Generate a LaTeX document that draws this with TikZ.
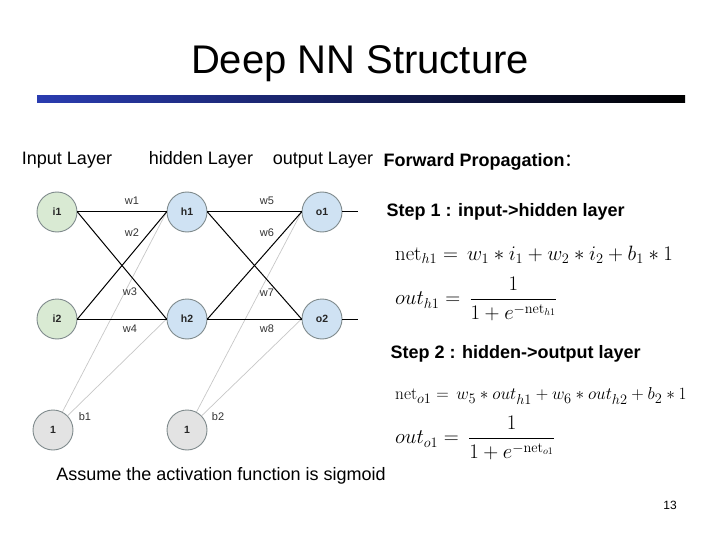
\documentclass[tikz,border=0pt]{standalone}
\usepackage[no-math]{fontspec}
\setmainfont{Liberation Sans}
\newfontfamily\cjkfont{Noto Sans CJK SC}
\usepackage{amsmath}
\usepackage{tikz}
\usetikzlibrary{positioning}
\definecolor{inputfill}{HTML}{D9EAD3}
\definecolor{unitfill}{HTML}{CFE2F3}
\definecolor{biasfill}{HTML}{E3E3E3}
\definecolor{ringcol}{HTML}{7F8A8C}
\definecolor{barblue}{HTML}{2A3CB0}

\begin{document}
\begin{tikzpicture}[x=1pt, y=-1pt,
  neuron/.style={circle, draw=ringcol, line width=0.9pt, minimum size=40pt, inner sep=0pt,
    text=black!85, font=\fontsize{10.5}{12}\selectfont\bfseries},
  weight/.style={text=black!80, font=\fontsize{11}{12}\selectfont},
  layer/.style={font=\fontsize{18}{21}\selectfont},
  heading/.style={anchor=west, font=\fontsize{18}{21}\selectfont\bfseries},
  eqn/.style={anchor=west, inner sep=0pt, font=\fontsize{20}{23}\selectfont},
  link/.style={black, line width=1pt},
  biaslink/.style={black!22, line width=0.7pt}]
\useasboundingbox (0,0) rectangle (720,540);

% Title
\node[font=\fontsize{40}{44}\selectfont] (title) at (360,64) {Deep NN Structure};
\shade[left color=barblue, right color=black] (37,96) rectangle (685,103);

% Layer labels
\node[layer] (inlabel) at (67,160) {Input Layer};
\node[layer] (hidlabel) at (201,160) {hidden Layer};
\node[layer] (outlabel) at (323,160) {output Layer};

% Network
\node[neuron, fill=inputfill] (i1) at (57,212) {i1};
\node[neuron, fill=inputfill] (i2) at (57,319) {i2};
\node[neuron, fill=unitfill] (h1) at (187,212) {h1};
\node[neuron, fill=unitfill] (h2) at (187,319) {h2};
\node[neuron, fill=unitfill] (o1) at (322,212) {o1};
\node[neuron, fill=unitfill] (o2) at (322,319) {o2};
\node[neuron, fill=biasfill] (b1) at (53,430) {1};
\node[neuron, fill=biasfill] (b2) at (187,430) {1};
\coordinate (y1) at (358,212);
\coordinate (y2) at (358,319);

% Bias connections
\draw[biaslink] (b1) -- (h1.west);
\draw[biaslink] (b1) -- (h2.west);
\draw[biaslink] (b2) -- (o1.west);
\draw[biaslink] (b2) -- (o2.west);

% Weight connections
\draw[link] (i1.east) -- (h1.west);
\draw[link] (i1.east) -- (h2.west);
\draw[link] (i2.east) -- (h1.west);
\draw[link] (i2.east) -- (h2.west);
\draw[link] (h1.east) -- (o1.west);
\draw[link] (h1.east) -- (o2.west);
\draw[link] (h2.east) -- (o1.west);
\draw[link] (h2.east) -- (o2.west);
\draw[link] (o1.east) -- (y1);
\draw[link] (o2.east) -- (y2);

% Weight labels
\node[weight] (w1) at (132,201) {w1};
\node[weight] (w2) at (132,233) {w2};
\node[weight] (w3) at (130,292) {w3};
\node[weight] (w4) at (130,329) {w4};
\node[weight] (w5) at (267,201) {w5};
\node[weight] (w6) at (267,233) {w6};
\node[weight] (w7) at (267,293) {w7};
\node[weight] (w8) at (267,329) {w8};
\node[weight] (b1label) at (85,417) {b1};
\node[weight] (b2label) at (218,417) {b2};

% Forward propagation
\node[heading] (fwd) at (380,162) {Forward Propagation{\normalfont\cjkfont ：}};
\node[heading] (step1) at (383,212) {Step 1 : input->hidden layer};
\node[eqn] (neth1) at (395,255) {$\mathrm{net}_{h1} =\, w_1 * i_1 + w_2 * i_2 + b_1 * 1$};
\node[eqn] (outh1) at (395,299) {$\displaystyle out_{h1} =\, \frac{1}{1+e^{-\mathrm{net}_{h1}}}$};
\node[heading] (step2) at (387,354) {Step 2 : hidden->output layer};
\node[eqn, font=\fontsize{19}{22}\selectfont] (neto1) at (395,396) {$\mathrm{net}_{o1} =\, w_5 * out_{h1} + w_6 * out_{h2} + b_2 * 1$};
\node[eqn] (outo1) at (395,438) {$\displaystyle out_{o1} =\, \frac{1}{1+e^{-\mathrm{net}_{o1}}}$};

% Footer
\node[layer] (note) at (221,476) {Assume the activation function is sigmoid};
\node[font=\fontsize{12}{14}\selectfont] (page) at (670,505) {13};
\end{tikzpicture}
\end{document}
